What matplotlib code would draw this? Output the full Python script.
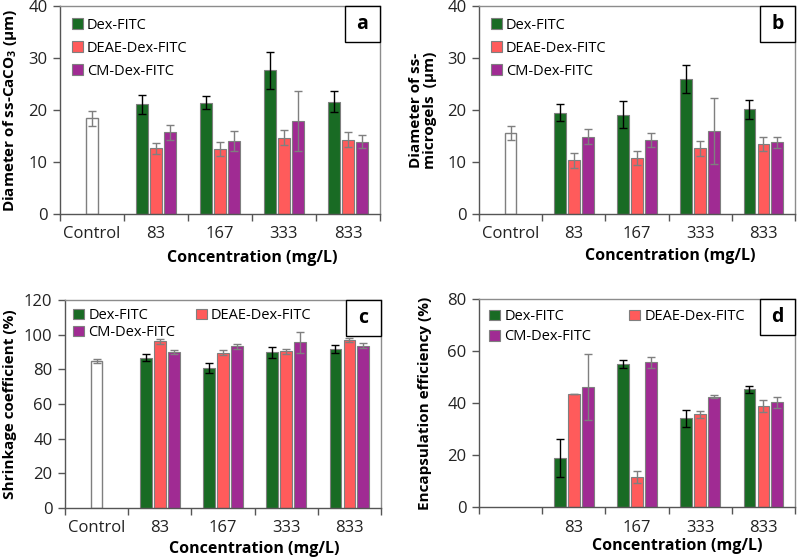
import numpy as np
import matplotlib
matplotlib.use("Agg")
import matplotlib.pyplot as plt
from matplotlib.patches import Rectangle, Patch

plt.rcParams['font.family'] = ['Open Sans', 'DejaVu Sans']
plt.rcParams['mathtext.fontset'] = 'custom'
plt.rcParams['mathtext.rm'] = 'Open Sans'
plt.rcParams['mathtext.bf'] = 'Open Sans:bold'

# data
categories = ["Control", "83", "167", "333", "833"]
categories_d = ["", "83", "167", "333", "833"]
series = ["Dex-FITC", "DEAE-Dex-FITC", "CM-Dex-FITC"]

# (a) diameter of ss-CaCO3 (um)
a_control = [18.4, 1.4]
a_dex = [21.1, 21.4, 27.6, 21.6]
a_dex_err = [1.8, 1.3, 3.5, 2.0]
a_deae = [12.6, 12.5, 14.7, 14.3]
a_deae_err = [1.1, 1.3, 1.4, 1.5]
a_cm = [15.7, 14.1, 17.9, 13.9]
a_cm_err = [1.4, 1.9, 5.8, 1.3]

# (b) diameter of ss-microgels (um)
b_control = [15.6, 1.4]
b_dex = [19.5, 19.1, 26.0, 20.1]
b_dex_err = [1.7, 2.6, 2.7, 1.8]
b_deae = [10.3, 10.8, 12.6, 13.5]
b_deae_err = [1.5, 1.4, 1.4, 1.3]
b_cm = [14.9, 14.2, 16.0, 13.8]
b_cm_err = [1.4, 1.3, 6.3, 1.1]

# (c) shrinkage coefficient (%)
c_control = [84.8, 1.3]
c_dex = [86.7, 80.8, 89.8, 91.7]
c_dex_err = [2.0, 2.7, 3.1, 2.1]
c_deae = [96.2, 89.6, 90.4, 96.9]
c_deae_err = [1.3, 1.6, 1.5, 1.2]
c_cm = [90.0, 93.3, 95.6, 93.7]
c_cm_err = [1.2, 1.5, 6.1, 1.3]

# (d) encapsulation efficiency (%), no control
d_dex = [19.0, 55.1, 34.1, 45.2]
d_dex_err = [7.3, 1.6, 3.4, 1.5]
d_deae = [43.4, 11.6, 35.6, 39.0]
d_deae_err = [0.1, 2.3, 1.5, 2.3]
d_cm = [46.1, 55.7, 42.5, 40.2]
d_cm_err = [12.6, 2.1, 0.6, 2.2]

colors = ["#196B24", "#FF5B5B", "#A02B93"]
err_colors = ["black", "#7f7f7f", "#7f7f7f"]
edge = "#7f7f7f"

W, H = 797, 558
fig = plt.figure(figsize=(W / 100, H / 100), dpi=100)


def box(l, r, t, b):
    return [l / W, 1 - b / H, (r - l) / W, (b - t) / H]


def panel(rect, control, vals, errs, ymax, ystep, ylabel, letter, ylab_x,
          xlab_xy, xlabels, leg_order, leg_kw):
    ax = fig.add_axes(rect)
    x = np.arange(1, 5)
    width = 0.185
    offs = [-0.22, 0.0, 0.22]
    if control is not None:
        ax.bar(0, control[0], width, color="white", edgecolor=edge, lw=1.0,
               yerr=control[1], error_kw=dict(ecolor="#7f7f7f", lw=1, capsize=3, capthick=1))
    handles = []
    for i in range(3):
        ax.bar(x + offs[i], vals[i], width, color=colors[i], edgecolor=edge, lw=0.8,
               yerr=errs[i], error_kw=dict(ecolor=err_colors[i], lw=1, capsize=3, capthick=1))
        handles.append(Patch(facecolor=colors[i], edgecolor=edge, lw=0.8, label=series[i]))
    ax.set_xlim(-0.5, 4.5)
    ax.set_ylim(0, ymax)
    ax.set_yticks(np.arange(0, ymax + 1, ystep))
    ax.set_xticks(range(5))
    ax.set_xticklabels(xlabels)
    ax.set_xticks(np.arange(-0.5, 5, 1), minor=True)
    ax.tick_params(axis="x", which="major", length=0, pad=9, labelsize=12, colors="#222222")
    ax.tick_params(axis="x", which="minor", length=5, width=1, color="#555555")
    ax.tick_params(axis="y", length=5, width=1, color="#555555", labelsize=12,
                   labelcolor="#222222", pad=4)
    for s in ["left", "bottom"]:
        ax.spines[s].set_color("#555555")
        ax.spines[s].set_linewidth(1)
    for s in ["top", "right"]:
        ax.spines[s].set_color("#8c8c8c")
        ax.spines[s].set_linewidth(1)
    ax.set_xlabel("Concentration (mg/L)", fontsize=11.5, fontweight="bold")
    ax.xaxis.set_label_coords(*xlab_xy)
    ax.set_ylabel(ylabel, fontsize=11, fontweight="bold", linespacing=1.0)
    ax.yaxis.set_label_coords(ylab_x, 0.5)
    hs = [handles[j] for j in leg_order]
    ax.legend(handles=hs, frameon=False, loc="upper left",
              handlelength=0.75, handleheight=0.75, handletextpad=0.3,
              fontsize=10.5, **leg_kw)
    # letter box in the top right corner
    bw, bh = 35 / (rect[2] * W), 36 / (rect[3] * H)
    ax.add_patch(Rectangle((1 - bw, 1 - bh), bw, bh, transform=ax.transAxes,
                           facecolor="white", edgecolor="black", lw=1, clip_on=False, zorder=5))
    ax.text(1 - bw / 2, 1 - bh / 2, letter, transform=ax.transAxes, ha="center",
            va="center", fontsize=14, fontweight="bold", zorder=6)
    return ax


panel(box(60, 380, 6, 214), a_control, [a_dex, a_deae, a_cm],
      [a_dex_err, a_deae_err, a_cm_err], 40, 10,
      r"Diameter of ss-CaCO$_\mathbf{3}$ (μm)", "a", -0.128, (0.6, -0.175),
      categories, [0, 1, 2],
      dict(ncol=1, labelspacing=0.55, borderaxespad=0.4))

panel(box(479, 795, 6, 214), b_control, [b_dex, b_deae, b_cm],
      [b_dex_err, b_deae_err, b_cm_err], 40, 10,
      "Diameter of ss-\nmicrogels  (μm)", "b", -0.133, (0.604, -0.165),
      categories, [0, 1, 2],
      dict(ncol=1, labelspacing=0.55, borderaxespad=0.4))

panel(box(65, 381, 300, 508), c_control, [c_dex, c_deae, c_cm],
      [c_dex_err, c_deae_err, c_cm_err], 120, 20,
      "Shrinkage coefficient (%)", "c", -0.152, (0.6, -0.158),
      categories, [0, 2, 1],
      dict(ncol=2, labelspacing=0.15, columnspacing=1.4, borderaxespad=0.15))

panel(box(479, 795, 299, 507), None, [d_dex, d_deae, d_cm],
      [d_dex_err, d_deae_err, d_cm_err], 80, 20,
      "Encapsulation efficiency (%)", "d", -0.149, (0.627, -0.15),
      categories_d, [0, 2, 1],
      dict(ncol=2, labelspacing=0.35, columnspacing=2.6, borderaxespad=0.3))

fig.savefig("out.png", dpi=100)
